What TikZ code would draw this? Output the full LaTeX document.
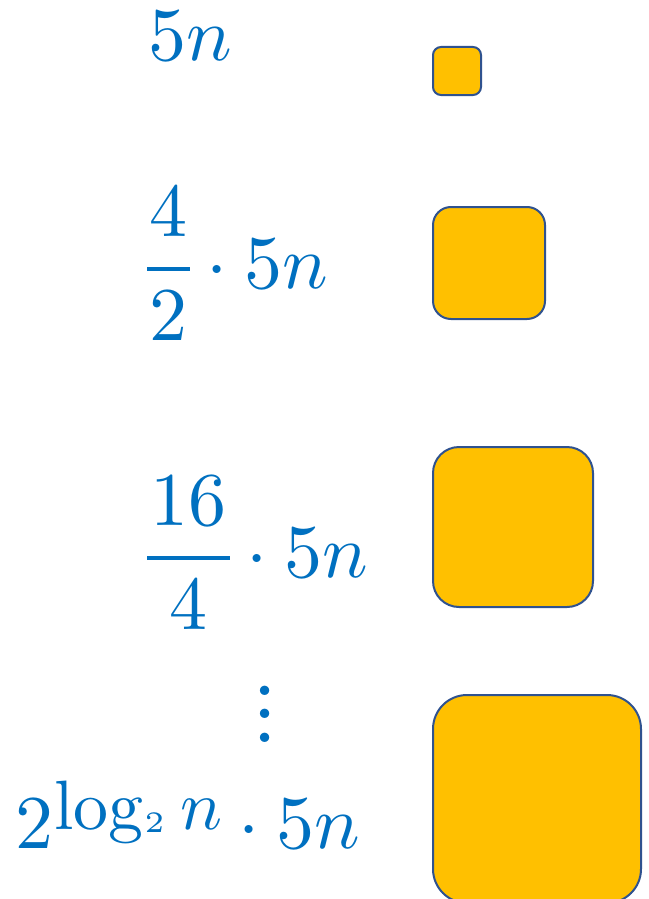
\documentclass[tikz,border=0pt]{standalone}
\usepackage{amsmath}
\definecolor{txtblue}{HTML}{0070C0}
\definecolor{boxfill}{HTML}{FFC000}
\definecolor{boxline}{HTML}{2F528F}
\tikzset{
  expr/.style={text=txtblue, inner sep=0pt, outer sep=0pt, anchor=base west, scale=7.6},
  sqbox/.style={draw=boxline, fill=boxfill, line width=2pt, anchor=north west, inner sep=0pt, outer sep=0pt}
}
\begin{document}
\begin{tikzpicture}[x=1pt,y=-1pt]
\path[use as bounding box, clip] (0,0) rectangle (648,899);
% expressions
\node[expr] (e1) at (148.5,61) {$5n$};
\node[expr] (e2) at (147,288) {$\nulldelimiterspace=0pt\dfrac{\mkern0.6mu 4\mkern0.6mu}{2}\cdot 5n$};
\node[expr] (e3) at (147,577) {$\nulldelimiterspace=0pt\dfrac{\mkern0.8mu 16\mkern0.8mu}{4}\cdot 5n$};
\node[expr, anchor=center, scale=0.79, font=\bfseries] (dots) at (265,714)
  {\vbox{\baselineskip=3.9pt\lineskiplimit=0pt\hbox{.}\hbox{.}\hbox{.}}};
\node[expr] (e4) at (16,848)
  {$2\raisebox{2.37pt}{\scalebox{0.92}{$\mathrm{log}\raisebox{-0.3pt}{\scalebox{0.85}{$\scriptscriptstyle 2$}}\mkern4mu n$}}\cdot 5n$};
% squares
\node[sqbox, minimum size=48pt, rounded corners=8pt] (b1) at (433,47) {};
\node[sqbox, minimum size=112pt, rounded corners=18pt] (b2) at (433,207) {};
\node[sqbox, minimum size=160pt, rounded corners=26pt] (b3) at (433,447) {};
\node[sqbox, minimum size=208pt, rounded corners=34pt] (b4) at (433,695) {};
\end{tikzpicture}
\end{document}
